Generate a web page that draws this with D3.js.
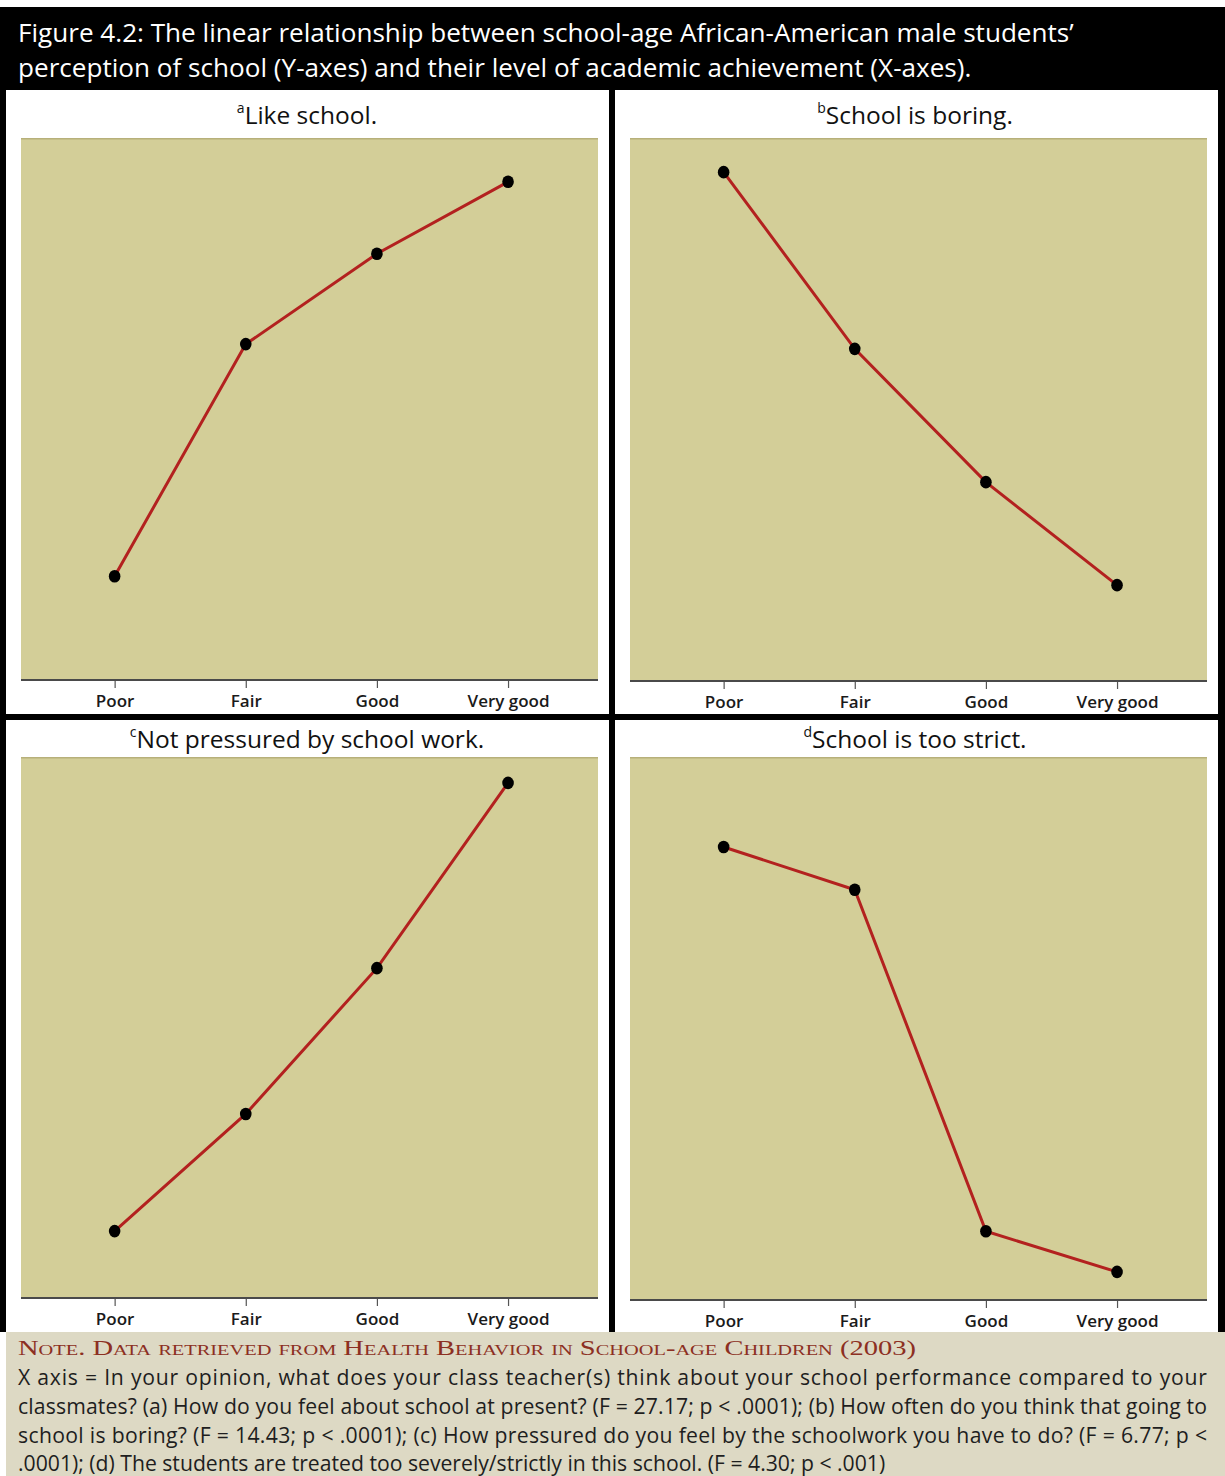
<!DOCTYPE html>
<html><head><meta charset="utf-8">
<script src="https://cdn.jsdelivr.net/npm/d3@7"></script>
<style>html,body{margin:0;padding:0;background:#fff;}svg{display:block;}</style>
</head><body>
<svg id="c" width="1225" height="1476"></svg>
<script>
// ---- data ----
const categories = ["Poor", "Fair", "Good", "Very good"];
const panelTitles = ["Like school.", "School is boring.", "Not pressured by school work.", "School is too strict."];
const panelLetters = ["a", "b", "c", "d"];
// relative mean scores (0 = axis line, 100 = top of plot)
const likeSchool     = [19.0, 61.9, 78.6, 91.9];
const schoolBoring   = [93.7, 61.1, 36.5, 17.5];
const notPressured   = [12.2, 33.9, 60.9, 95.2];
const tooStrict      = [83.4, 75.5, 12.5, 5.0];
const seriesList = [likeSchool, schoolBoring, notPressured, tooStrict];
const headerLines = [
  "Figure 4.2: The linear relationship between school-age African-American male students\u2019",
  "perception of school (Y-axes) and their level of academic achievement (X-axes)."
];
const noteHeading = "Note. Data retrieved from Health Behavior in School-age Children (2003)";
const noteLines = [
  "X axis = In your opinion, what does your class teacher(s) think about your school performance compared to your",
  "classmates? (a) How do you feel about school at present? (F = 27.17; p < .0001); (b) How often do you think that going to",
  "school is boring? (F = 14.43; p < .0001); (c) How pressured do you feel by the schoolwork you have to do? (F = 6.77; p <",
  ".0001); (d) The students are treated too severely/strictly in this school. (F = 4.30; p < .001)"
];

const svg = d3.select("#c");
const FONT = "'Open Sans', 'Lato', sans-serif";

// backgrounds
svg.append("rect").attr("x",0).attr("y",0).attr("width",1225).attr("height",1476).attr("fill","#fff");
svg.append("rect").attr("x",0).attr("y",7).attr("width",1225).attr("height",1325).attr("fill","#000");
svg.append("rect").attr("x",6).attr("y",1332).attr("width",1219).attr("height",144).attr("fill","#DDD9C4");

function fit(sel, target){
  const w = sel.node().getBBox().width;
  const fs = parseFloat(sel.attr("font-size"));
  sel.attr("font-size", fs*target/w);
  return fs*target/w;
}

// header
const h1 = svg.append("text").attr("x",18).attr("y",42).attr("fill","#fff")
  .attr("font-family",FONT).attr("font-size",26).text(headerLines[0]);
const hfs = fit(h1, 1057);
svg.append("text").attr("x",18).attr("y",77).attr("fill","#fff")
  .attr("font-family",FONT).attr("font-size",hfs).text(headerLines[1]);

// panels
const panels = [
  {wx:6,   wy:90,  ww:603, wh:624, px:21,  py:138, pw:577, ph:541, ty:124, lx:307},
  {wx:615, wy:90,  ww:603, wh:624, px:630, py:138, pw:577, ph:542, ty:124, lx:915},
  {wx:6,   wy:720, ww:603, wh:612, px:21,  py:757, pw:577, ph:540, ty:748, lx:307},
  {wx:615, wy:720, ww:603, wh:612, px:630, py:757, pw:577, ph:542, ty:748, lx:915}
];

panels.forEach((p,i)=>{
  const g = svg.append("g");
  g.append("rect").attr("x",p.wx).attr("y",p.wy).attr("width",p.ww).attr("height",p.wh).attr("fill","#fff");
  // title
  const t = g.append("text").attr("x",p.lx).attr("y",p.ty).attr("text-anchor","middle")
    .attr("font-family",FONT).attr("font-size",24.5).attr("fill","#111");
  t.append("tspan").attr("font-size",14).attr("dy",-11).text(panelLetters[i]);
  t.append("tspan").attr("dy",11).text(panelTitles[i]);

  const x = d3.scalePoint().domain(categories).range([p.px, p.px+p.pw]).padding(0.7).align(0.51);
  const y = d3.scaleLinear().domain([0,100]).range([p.py+p.ph, p.py]);

  g.append("rect").attr("x",p.px).attr("y",p.py).attr("width",p.pw).attr("height",p.ph).attr("fill","#D3CE98");
  g.append("line").attr("x1",p.px).attr("x2",p.px+p.pw).attr("y1",p.py+0.75).attr("y2",p.py+0.75)
    .attr("stroke","#B7B07A").attr("stroke-width",1.5);

  const ax = g.append("g").attr("transform",`translate(0,${p.py+p.ph})`)
    .call(d3.axisBottom(x).tickSize(9).tickSizeOuter(0).tickPadding(7));
  ax.select(".domain").remove();
  g.append("line").attr("x1",p.px).attr("x2",p.px+p.pw).attr("y1",p.py+p.ph+1).attr("y2",p.py+p.ph+1)
    .attr("stroke","#4a4a4a").attr("stroke-width",2);
  ax.selectAll(".tick line").attr("stroke","#555").attr("stroke-width",1.2);
  ax.selectAll(".tick text").attr("font-family",FONT).attr("font-size",17).attr("font-weight",600)
    .attr("fill","#1a1a1a");

  const data = categories.map((c,k)=>({c, v: seriesList[i][k]}));
  g.append("path").datum(data)
    .attr("d", d3.line().x(d=>x(d.c)).y(d=>y(d.v)))
    .attr("fill","none").attr("stroke","#B3211F").attr("stroke-width",3);
  g.selectAll("ellipse.pt").data(data).enter().append("ellipse").attr("class","pt")
    .attr("cx",d=>x(d.c)).attr("cy",d=>y(d.v)).attr("rx",5.8).attr("ry",6.3).attr("fill","#000");
});

// note heading (small caps serif)
svg.append("text").attr("x",18).attr("y",1355)
  .attr("font-family","'Liberation Serif','DejaVu Serif',serif").attr("font-size",21)
  .attr("font-variant","small-caps").attr("fill","#8C2F22")
  .attr("textLength",898).attr("lengthAdjust","spacingAndGlyphs").text(noteHeading);

// note paragraph
const l4 = svg.append("text").attr("x",18).attr("y",1471).attr("font-family",FONT)
  .attr("font-size",20).attr("fill","#1e1e1e").text(noteLines[3]);
const nfs = fit(l4, 868);
[1385,1414,1443].forEach((yy,k)=>{
  svg.append("text").attr("x",18).attr("y",yy).attr("font-family",FONT).attr("font-size",nfs)
    .attr("fill","#1e1e1e").attr("textLength",1189).attr("lengthAdjust","spacing").text(noteLines[k]);
});
</script>
</body></html>
